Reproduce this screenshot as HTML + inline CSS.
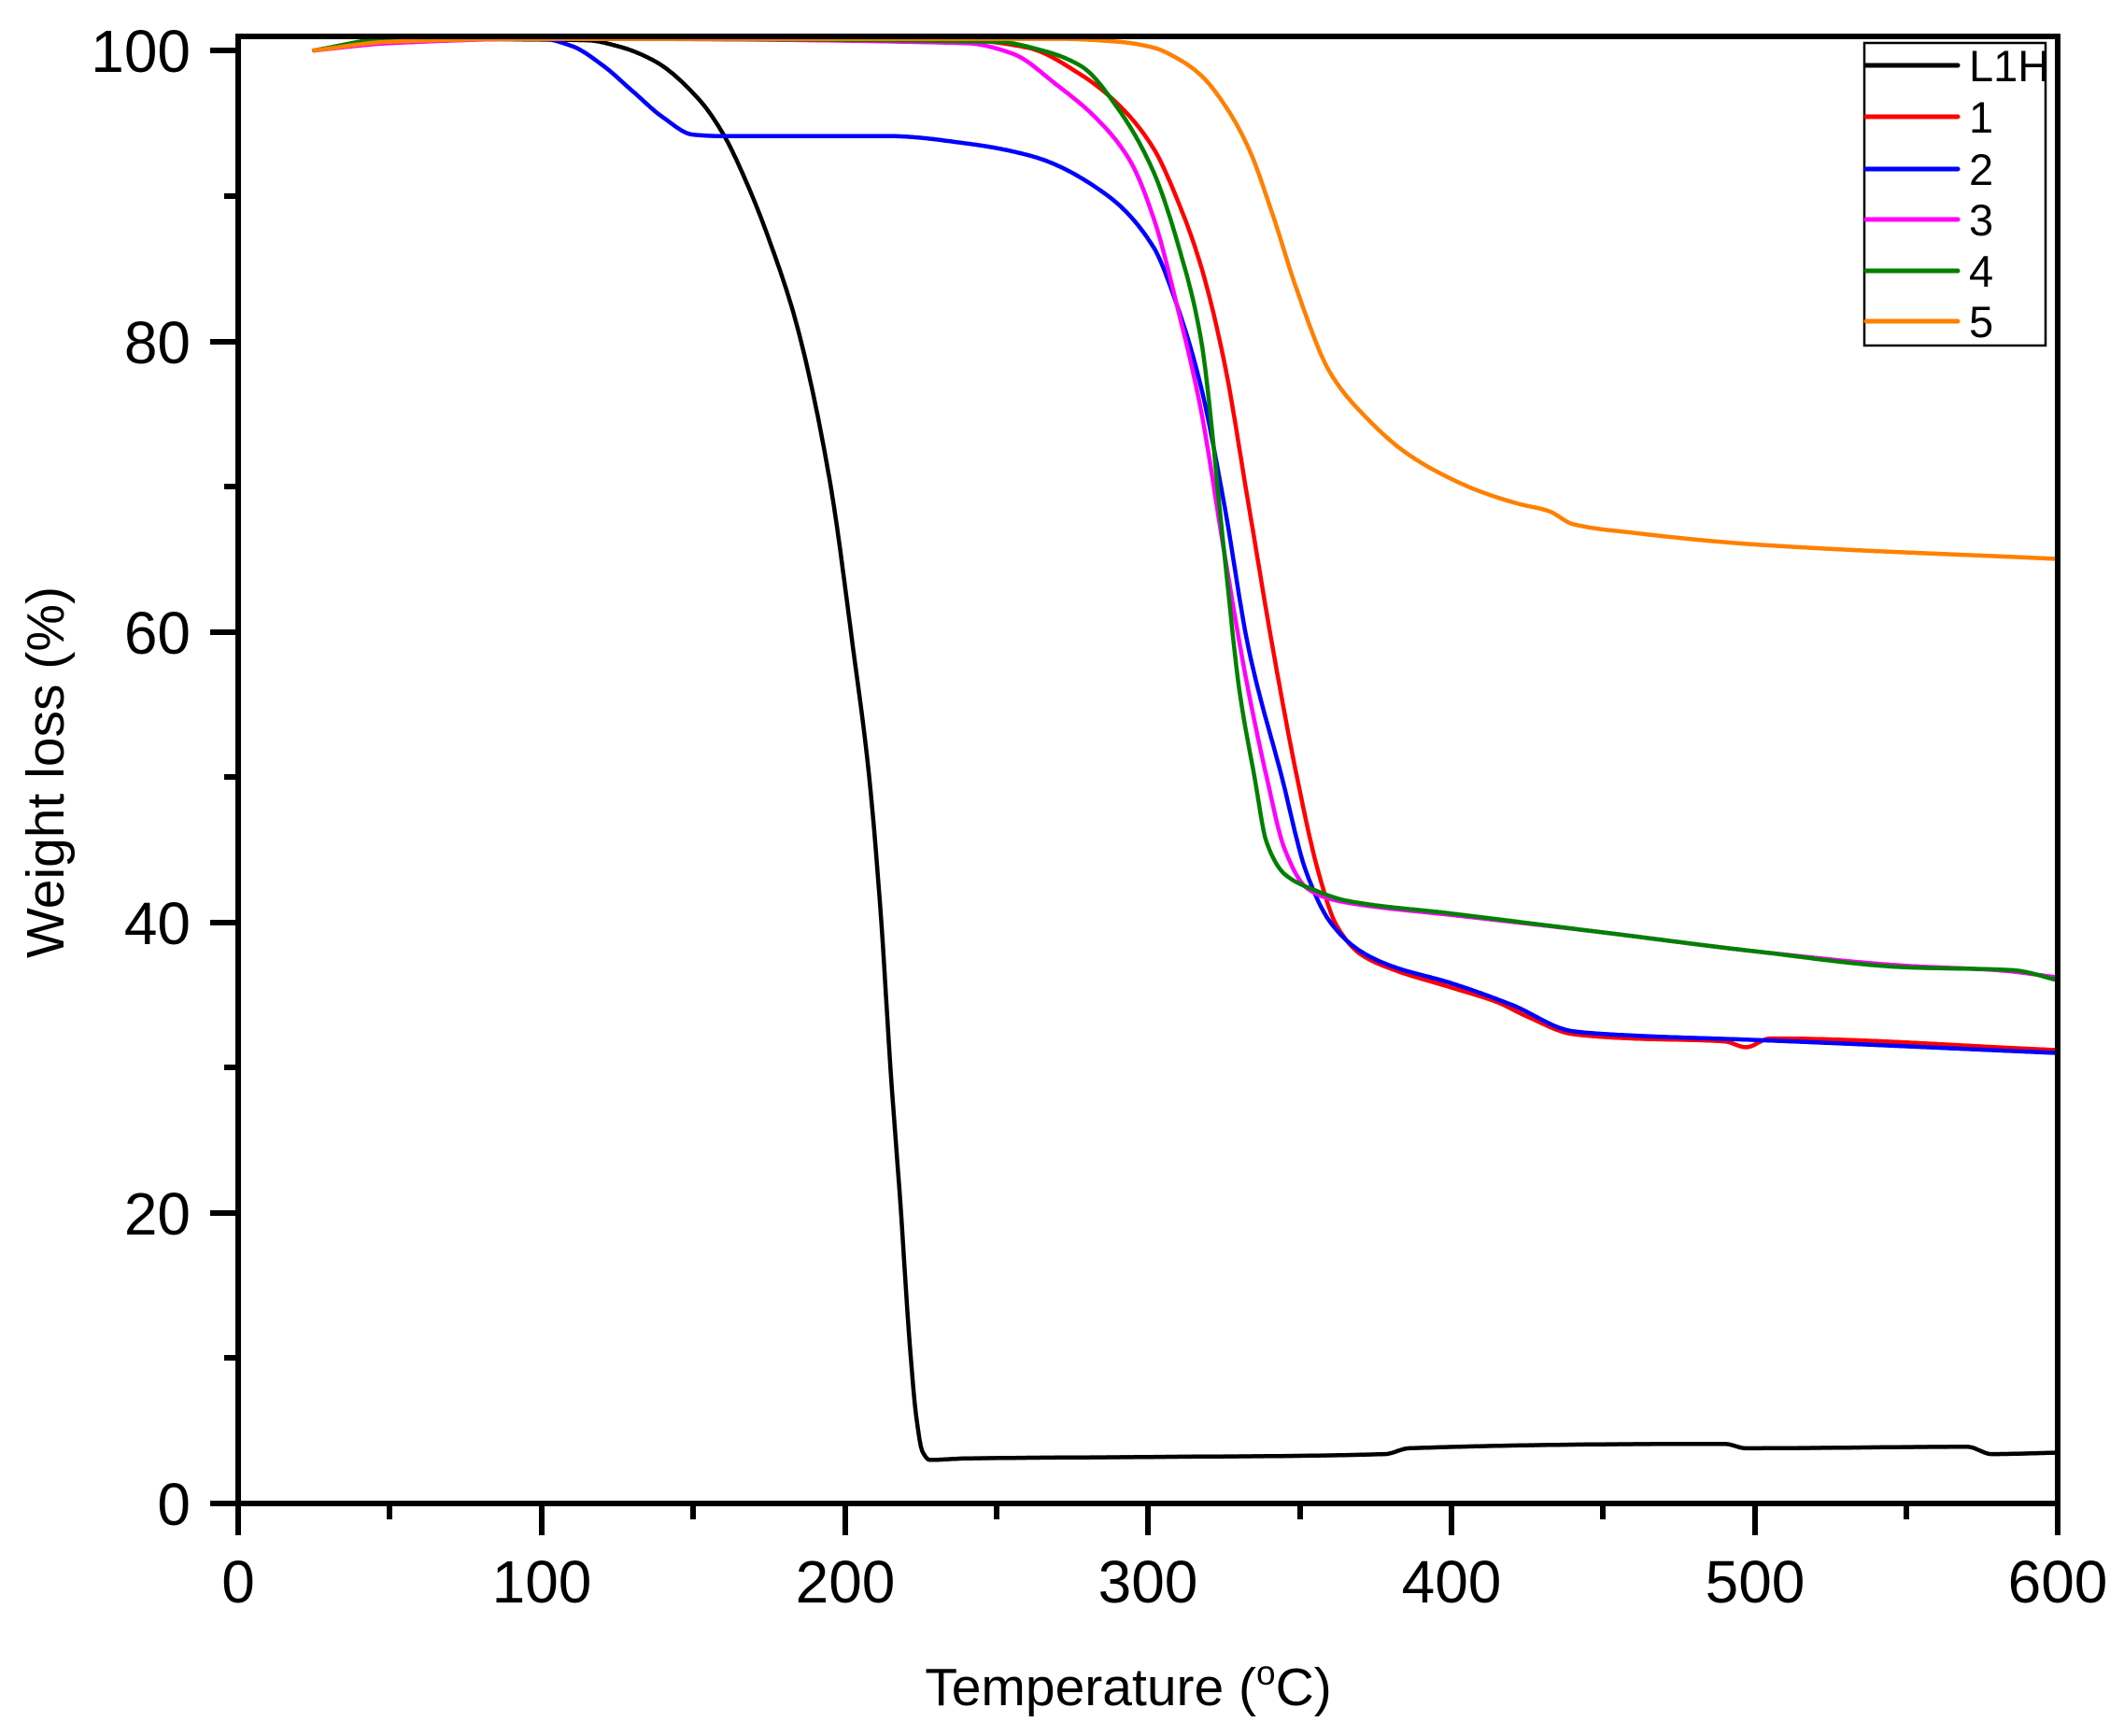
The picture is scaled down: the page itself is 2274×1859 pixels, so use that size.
<!DOCTYPE html>
<html><head><meta charset="utf-8"><style>
html,body{margin:0;padding:0;background:#fff}
svg{display:block}
text{font-family:"Liberation Sans",Arial,sans-serif;fill:#000}
</style></head><body>
<svg id="s" width="2274" height="1859" viewBox="0 0 2274 1859" xmlns="http://www.w3.org/2000/svg">
<g id="curves" fill="none" stroke-width="4.5" stroke-linejoin="round" stroke-linecap="round"></g>
<g stroke="#000" stroke-width="6" fill="none">
<rect x="255" y="39" width="1948" height="1571"/>
<path d="M225,54H255M225,366H255M225,677H255M225,988H255M225,1299H255M225,1610H255M240,210H255M240,521H255M240,832H255M240,1143H255M240,1454H255"/>
<path d="M255,1610V1644M580,1610V1644M905,1610V1644M1229,1610V1644M1554,1610V1644M1879,1610V1644M2203,1610V1644M417,1610V1627M742,1610V1627M1067,1610V1627M1392,1610V1627M1716,1610V1627M2041,1610V1627"/>
</g>
<rect x="1996" y="46" width="194" height="324" fill="none" stroke="#000" stroke-width="2.5"/>
<g stroke-width="5" stroke-linecap="round">
<line x1="1998" y1="70" x2="2096" y2="70" stroke="#000"/>
<line x1="1998" y1="125" x2="2096" y2="125" stroke="#f00"/>
<line x1="1998" y1="181" x2="2096" y2="181" stroke="#00f"/>
<line x1="1998" y1="235" x2="2096" y2="235" stroke="#f0f"/>
<line x1="1998" y1="290" x2="2096" y2="290" stroke="#008000"/>
<line x1="1998" y1="344" x2="2096" y2="344" stroke="#ff8000"/>
</g>
<g font-size="47">
<text x="2108" y="87">L1H</text>
<text x="2108" y="142">1</text>
<text x="2108" y="198">2</text>
<text x="2108" y="252">3</text>
<text x="2108" y="307">4</text>
<text x="2108" y="361">5</text>
</g>
<g font-size="64" text-anchor="end">
<text x="204" y="77">100</text>
<text x="204" y="389">80</text>
<text x="204" y="700">60</text>
<text x="204" y="1011">40</text>
<text x="204" y="1322">20</text>
<text x="204" y="1633">0</text>
</g>
<g font-size="64" text-anchor="middle">
<text x="255" y="1716">0</text>
<text x="580" y="1716">100</text>
<text x="905" y="1716">200</text>
<text x="1229" y="1716">300</text>
<text x="1554" y="1716">400</text>
<text x="1879" y="1716">500</text>
<text x="2203" y="1716">600</text>
</g>
<text x="1208" y="1826" font-size="57" text-anchor="middle">Temperature (<tspan font-size="37" dy="-22">o</tspan><tspan dy="22">C)</tspan></text>
<text transform="translate(68,827) rotate(-90)" font-size="57" text-anchor="middle">Weight loss (%)</text>
</svg>
<script>
var D=[
["#000",[[25,100],[50,100.8],[115,100.7],[125,100.3],[137,99.3],[152,96.6],[160,94.2],[168,90.7],[176,86.4],[184,81.2],[195,70.4],[202.6,59],[208,50],[212,40],[215,30],[218.5,20],[221,12],[223.5,6],[225.5,3.6],[228,3],[240,3.1],[300,3.2],[378,3.4],[386,3.8],[490,4.1],[497,3.8],[570,3.9],[578,3.4],[600,3.5]]],
["#f00",[[25,100],[50,100.6],[100,100.8],[240,100.7],[260,100.2],[278,98.3],[290,96.3],[301.6,93.3],[310,89.5],[317.3,85.2],[325,78.6],[333,68.8],[341,58.9],[349,50],[356,43.5],[362,39.8],[370,37.8],[380,36.8],[400,35.5],[415,34.5],[425,33.5],[440,32.3],[460,32],[490,31.8],[497,31.4],[505,32],[600,31.2]]],
["#00f",[[25,100],[50,100.6],[100,100.8],[110,100.3],[120,99],[130,97.2],[140,95.4],[150,94.2],[160,94.1],[215,94.1],[240,93.6],[262,92.7],[286,90.1],[301.6,86.5],[309.4,82.5],[317.3,76.9],[325,68.8],[333,58.9],[344,50],[352,43.5],[360,40],[370,38],[380,37],[400,35.8],[420,34.3],[440,32.5],[460,32.2],[500,31.9],[600,31]]],
["#f0f",[[25,100],[50,100.5],[100,100.8],[240,100.5],[255,99.8],[270,97.6],[283,95.3],[294,92.4],[302,88.3],[309.4,82.5],[317.3,75.3],[325,65.5],[332,57],[339,50],[345,45],[352,42.4],[360,41.6],[370,41.2],[400,40.5],[450,39.3],[500,38],[550,37],[580,36.7],[600,36.2]]],
["#008000",[[25,100],[50,100.8],[100,100.8],[250,100.6],[265,100],[278,98.9],[290,96],[301.6,91.7],[310,86.5],[317.3,80.2],[325,65.5],[330,56],[335,50],[339,45.5],[345,43.3],[355,42.2],[365,41.5],[400,40.6],[450,39.3],[500,38],[550,36.9],[585,36.7],[600,36]]],
["#ff8000",[[25,100],[50,100.6],[100,100.8],[270,100.8],[290,100.6],[301.6,100.2],[310,99.4],[317.3,98.3],[325,96.3],[333,93.3],[341,88.7],[349,83.5],[360,77.8],[372,74.7],[385,72.3],[399,70.6],[410,69.6],[422,68.8],[432,68.3],[440,67.4],[460,66.8],[500,66],[600,65]]]
];
function pchip(P){
 var n=P.length,h=[],dl=[],m=[];
 for(var i=0;i<n-1;i++){h[i]=P[i+1][0]-P[i][0];dl[i]=(P[i+1][1]-P[i][1])/h[i];}
 m[0]=dl[0];m[n-1]=dl[n-2];
 for(i=1;i<n-1;i++){
  if(dl[i-1]*dl[i]<=0)m[i]=0;
  else{var w1=2*h[i]+h[i-1],w2=h[i]+2*h[i-1];m[i]=(w1+w2)/(w1/dl[i-1]+w2/dl[i]);}
 }
 var out=[];
 for(i=0;i<n-1;i++){
  var N=Math.max(2,Math.ceil(h[i]/0.5));
  for(var k=0;k<N;k++){
   var t=k/N,t2=t*t,t3=t2*t;
   var y=(2*t3-3*t2+1)*P[i][1]+(t3-2*t2+t)*h[i]*m[i]+(-2*t3+3*t2)*P[i+1][1]+(t3-t2)*h[i]*m[i+1];
   out.push([P[i][0]+t*h[i],y]);
  }
 }
 out.push(P[n-1]);return out;
}
var g=document.getElementById('curves'),ns='http://www.w3.org/2000/svg';
D.forEach(function(s){
 var p=pchip(s[1]);
 var d=p.map(function(q,i){return (i?'L':'M')+(255+3.248*q[0]).toFixed(1)+','+(1610-15.56*q[1]).toFixed(1);}).join('');
 var e=document.createElementNS(ns,'path');e.setAttribute('d',d);e.setAttribute('stroke',s[0]);g.appendChild(e);
});
</script>
</body></html>
